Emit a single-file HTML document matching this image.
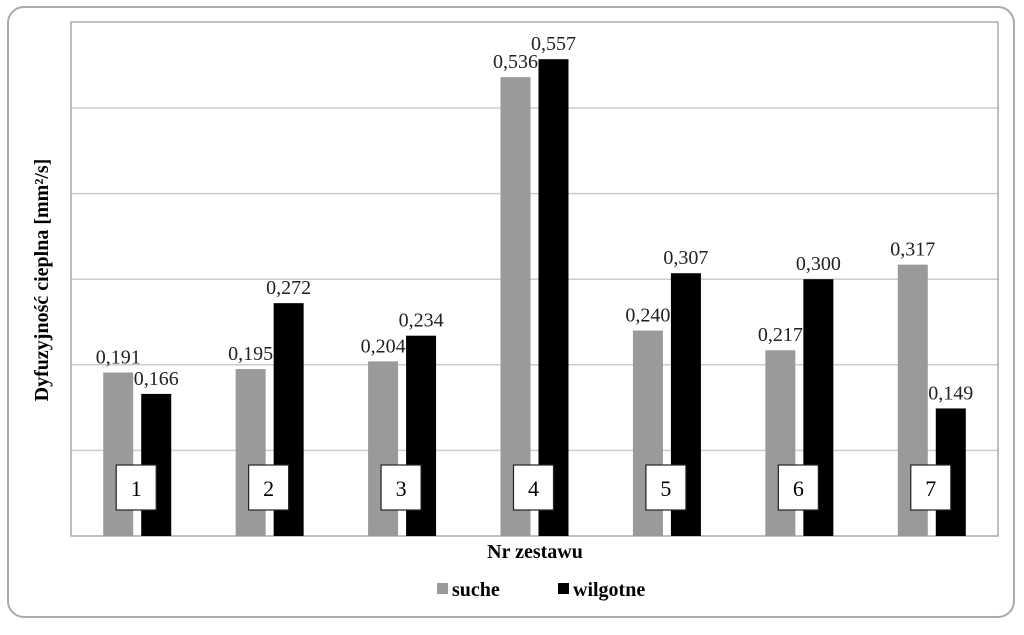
<!DOCTYPE html>
<html><head><meta charset="utf-8"><style>
body{margin:0;background:#fff;}
svg text{font-family:"Liberation Serif",serif;}
</style></head><body>
<svg width="1024" height="630" xmlns="http://www.w3.org/2000/svg">
<rect x="8" y="7" width="1006" height="610" rx="16" fill="#fff" stroke="#aaa" stroke-width="2"/>
<g id="grid"></g>
<rect x="71" y="22" width="927" height="514" fill="none" stroke="#aaa" stroke-width="1.5"/>
<g id="bars"></g>
<text x="48" y="280" transform="rotate(-90 48 280)" text-anchor="middle" font-size="20" font-weight="bold">Dyfuzyjność cieplna [mm²/s]</text>
<text x="535" y="558" text-anchor="middle" font-size="20" font-weight="bold">Nr zestawu</text>
<g>
<rect x="437" y="583" width="11" height="11" fill="#9a9a9a"/>
<text x="452" y="596" font-size="20" font-weight="bold">suche</text>
<rect x="558" y="583" width="11" height="11" fill="#000"/>
<text x="573" y="596" font-size="20" font-weight="bold">wilgotne</text>
</g>
</svg>
<script>
const categories=["1","2","3","4","5","6","7"];
const suche=[0.191,0.195,0.204,0.536,0.240,0.217,0.317];
const wilgotne=[0.166,0.272,0.234,0.557,0.307,0.300,0.149];
const gridTicks=[0.1,0.2,0.3,0.4,0.5];
const NS="http://www.w3.org/2000/svg";
const x0=71,x1=998,y0=536,scale=856;
const gw=(x1-x0)/categories.length;
const yS=v=>y0-v*scale;
const xC=i=>x0+gw*(i+0.5);
function mk(t,a,p){const e=document.createElementNS(NS,t);for(const k in a)e.setAttribute(k,a[k]);p.appendChild(e);return e;}
const grid=document.getElementById('grid'),bars=document.getElementById('bars');
gridTicks.forEach(v=>{const l=mk('line',{x1:x0,x2:x1,y1:yS(v),y2:yS(v),stroke:'#ccc','stroke-width':1.5},grid);

});
const fmt=v=>v.toFixed(3).replace('.',',');
categories.forEach((c,i)=>{
 const cx=xC(i);
 [[suche,'#9a9a9a',-34,'suche'],[wilgotne,'#000',4,'wilgotne']].forEach(([arr,col,off,nm])=>{
  const v=arr[i];
  const r=mk('rect',{x:cx+off,y:yS(v),width:30,height:v*scale,fill:col},bars);
  
  
  const t=mk('text',{x:cx+off+15,y:yS(v)-9,'text-anchor':'middle','font-size':20,fill:'#222'},bars);
  t.textContent=fmt(v);
  
  
 });
 const b=mk('rect',{x:cx-21,y:465,width:40,height:45,fill:'#fff',stroke:'#222','stroke-width':1.2},bars);
 
 
 const t=mk('text',{x:cx-1,y:496,'text-anchor':'middle','font-size':22},bars);
 t.textContent=c;
 
 
});
</script>
</body></html>
